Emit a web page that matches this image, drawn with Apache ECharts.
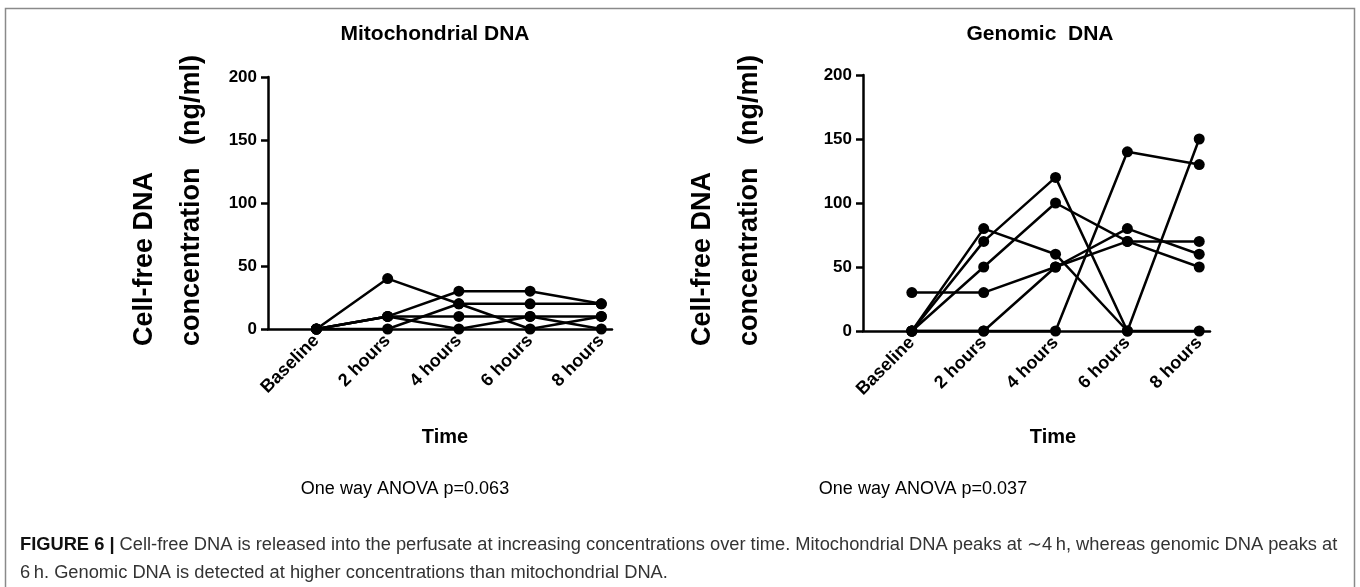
<!DOCTYPE html>
<html><head><meta charset="utf-8">
<script src="https://cdn.jsdelivr.net/npm/echarts@6/dist/echarts.min.js"></script>
<style>html,body{margin:0;padding:0;background:#fff}#c{width:1360px;height:587px}</style>
</head><body><div id="c"></div>
<script>
const categories = ['Baseline', '2 hours', '4 hours', '6 hours', '8 hours'];
const yTicks = [0, 50, 100, 150, 200];
// Mitochondrial DNA (ng/ml), one array per subject
const mito1 = [0, 40, 20, 0, 10];
const mito2 = [0, 10, 30, 30, 20];
const mito3 = [0, 0, 20, 20, 20];
const mito4 = [0, 10, 10, 10, 10];
const mito5 = [0, 10, 0, 10, 0];
// Genomic DNA (ng/ml)
const gen1 = [30, 30, 50, 70, 70];
const gen2 = [0, 0, 50, 80, 60];
const gen3 = [0, 80, 60, 0, 150];
const gen4 = [0, 70, 120, 0, 0];
const gen5 = [0, 50, 100, 70, 50];
const gen6 = [0, 0, 0, 140, 130];
const mitoSeries = [mito1, mito2, mito3, mito4, mito5];
const genSeries = [gen1, gen2, gen3, gen4, gen5, gen6];
const panelTitles = ['Mitochondrial DNA', 'Genomic  DNA'];
const anovaTexts = ['One way ANOVA p=0.063', 'One way ANOVA p=0.037'];

const F = 'Liberation Sans, Arial, sans-serif';
const idx = categories.map((_, i) => i);

function xAxisCfg(gi) {
  return {
    type: 'value', gridIndex: gi, min: -0.68, max: 4.15,
    splitLine: { show: false },
    axisLine: { show: true, onZero: true, lineStyle: { color: '#000', width: 2.5 } },
    axisTick: { show: true, customValues: idx, length: 5, lineStyle: { color: '#000', width: 2.5 } },
    axisLabel: { customValues: idx, rotate: 45, margin: 9, color: '#000', fontFamily: F, fontWeight: 'bold', fontSize: 18,
      formatter: v => categories[Math.round(v)] }
  };
}
function yAxisCfg(gi) {
  return {
    type: 'value', gridIndex: gi, min: yTicks[0], max: yTicks[yTicks.length - 1], interval: 50,
    splitLine: { show: false },
    axisLine: { show: true, onZero: false, lineStyle: { color: '#000', width: 2.5 } },
    axisTick: { show: true, length: 7, lineStyle: { color: '#000', width: 2.5 } },
    axisLabel: { margin: 11, color: '#000', fontFamily: F, fontWeight: 'bold', fontSize: 17 }
  };
}
function seriesFor(arrs, gi) {
  return arrs.map(a => ({
    type: 'line', xAxisIndex: gi, yAxisIndex: gi,
    data: a.map((v, i) => [i, v]),
    symbol: 'circle', symbolSize: 11, clip: false,
    lineStyle: { color: '#000', width: 2.5 },
    itemStyle: { color: '#000' },
    emphasis: { disabled: true }, animation: false
  }));
}
function txt(x, y, text, font, opts) {
  return Object.assign({ type: 'text', x: x, y: y, style: Object.assign({ text: text, font: font, fill: '#000', textAlign: 'center', textVerticalAlign: 'middle' }, (opts && opts.style) || {}) }, opts && opts.rotation !== undefined ? { rotation: opts.rotation } : {});
}
const yName1 = 'Cell-free DNA';
const yName2 = 'concentration   (ng/ml)';

const chart = echarts.init(document.getElementById('c'));
chart.setOption({
  animation: false,
  grid: [
    { left: 268, top: 77, width: 344, height: 252 },
    { left: 863, top: 75, width: 347, height: 256 }
  ],
  xAxis: [xAxisCfg(0), xAxisCfg(1)],
  yAxis: [yAxisCfg(0), yAxisCfg(1)],
  series: seriesFor(mitoSeries, 0).concat(seriesFor(genSeries, 1)),
  graphic: [
    { type: 'rect', shape: { x: 5.5, y: 8.5, width: 1349, height: 590 }, style: { fill: 'none', stroke: '#8a8a8a', lineWidth: 1.5 }, z: 0 },
    txt(435, 34, panelTitles[0], 'bold 21px ' + F),
    txt(1040, 34, panelTitles[1], 'bold 21px ' + F),
    txt(145, 346, yName1, 'bold 27px ' + F, { rotation: Math.PI / 2, style: { textAlign: 'left' } }),
    txt(192, 346, yName2, 'bold 27px ' + F, { rotation: Math.PI / 2, style: { textAlign: 'left' } }),
    txt(703, 346, yName1, 'bold 27px ' + F, { rotation: Math.PI / 2, style: { textAlign: 'left' } }),
    txt(750, 346, yName2, 'bold 27px ' + F, { rotation: Math.PI / 2, style: { textAlign: 'left' } }),
    txt(445, 437, 'Time', 'bold 20px ' + F),
    txt(1053, 437, 'Time', 'bold 20px ' + F),
    txt(405, 489, anovaTexts[0], '18px ' + F),
    txt(923, 489, anovaTexts[1], '18px ' + F),
    { type: 'text', x: 20, y: 545, style: { text: '{b|FIGURE 6 |} Cell-free DNA is released into the perfusate at increasing concentrations over time. Mitochondrial DNA peaks at \u223C4\u2009h, whereas genomic DNA peaks at', font: '18.3px ' + F, fill: '#333', textVerticalAlign: 'middle', rich: { b: { font: 'bold 18.3px ' + F, fill: '#111' } } } },
    { type: 'text', x: 20, y: 573, style: { text: '6\u2009h. Genomic DNA is detected at higher concentrations than mitochondrial DNA.', font: '18.3px ' + F, fill: '#333', textVerticalAlign: 'middle' } }
  ]
});
</script></body></html>
